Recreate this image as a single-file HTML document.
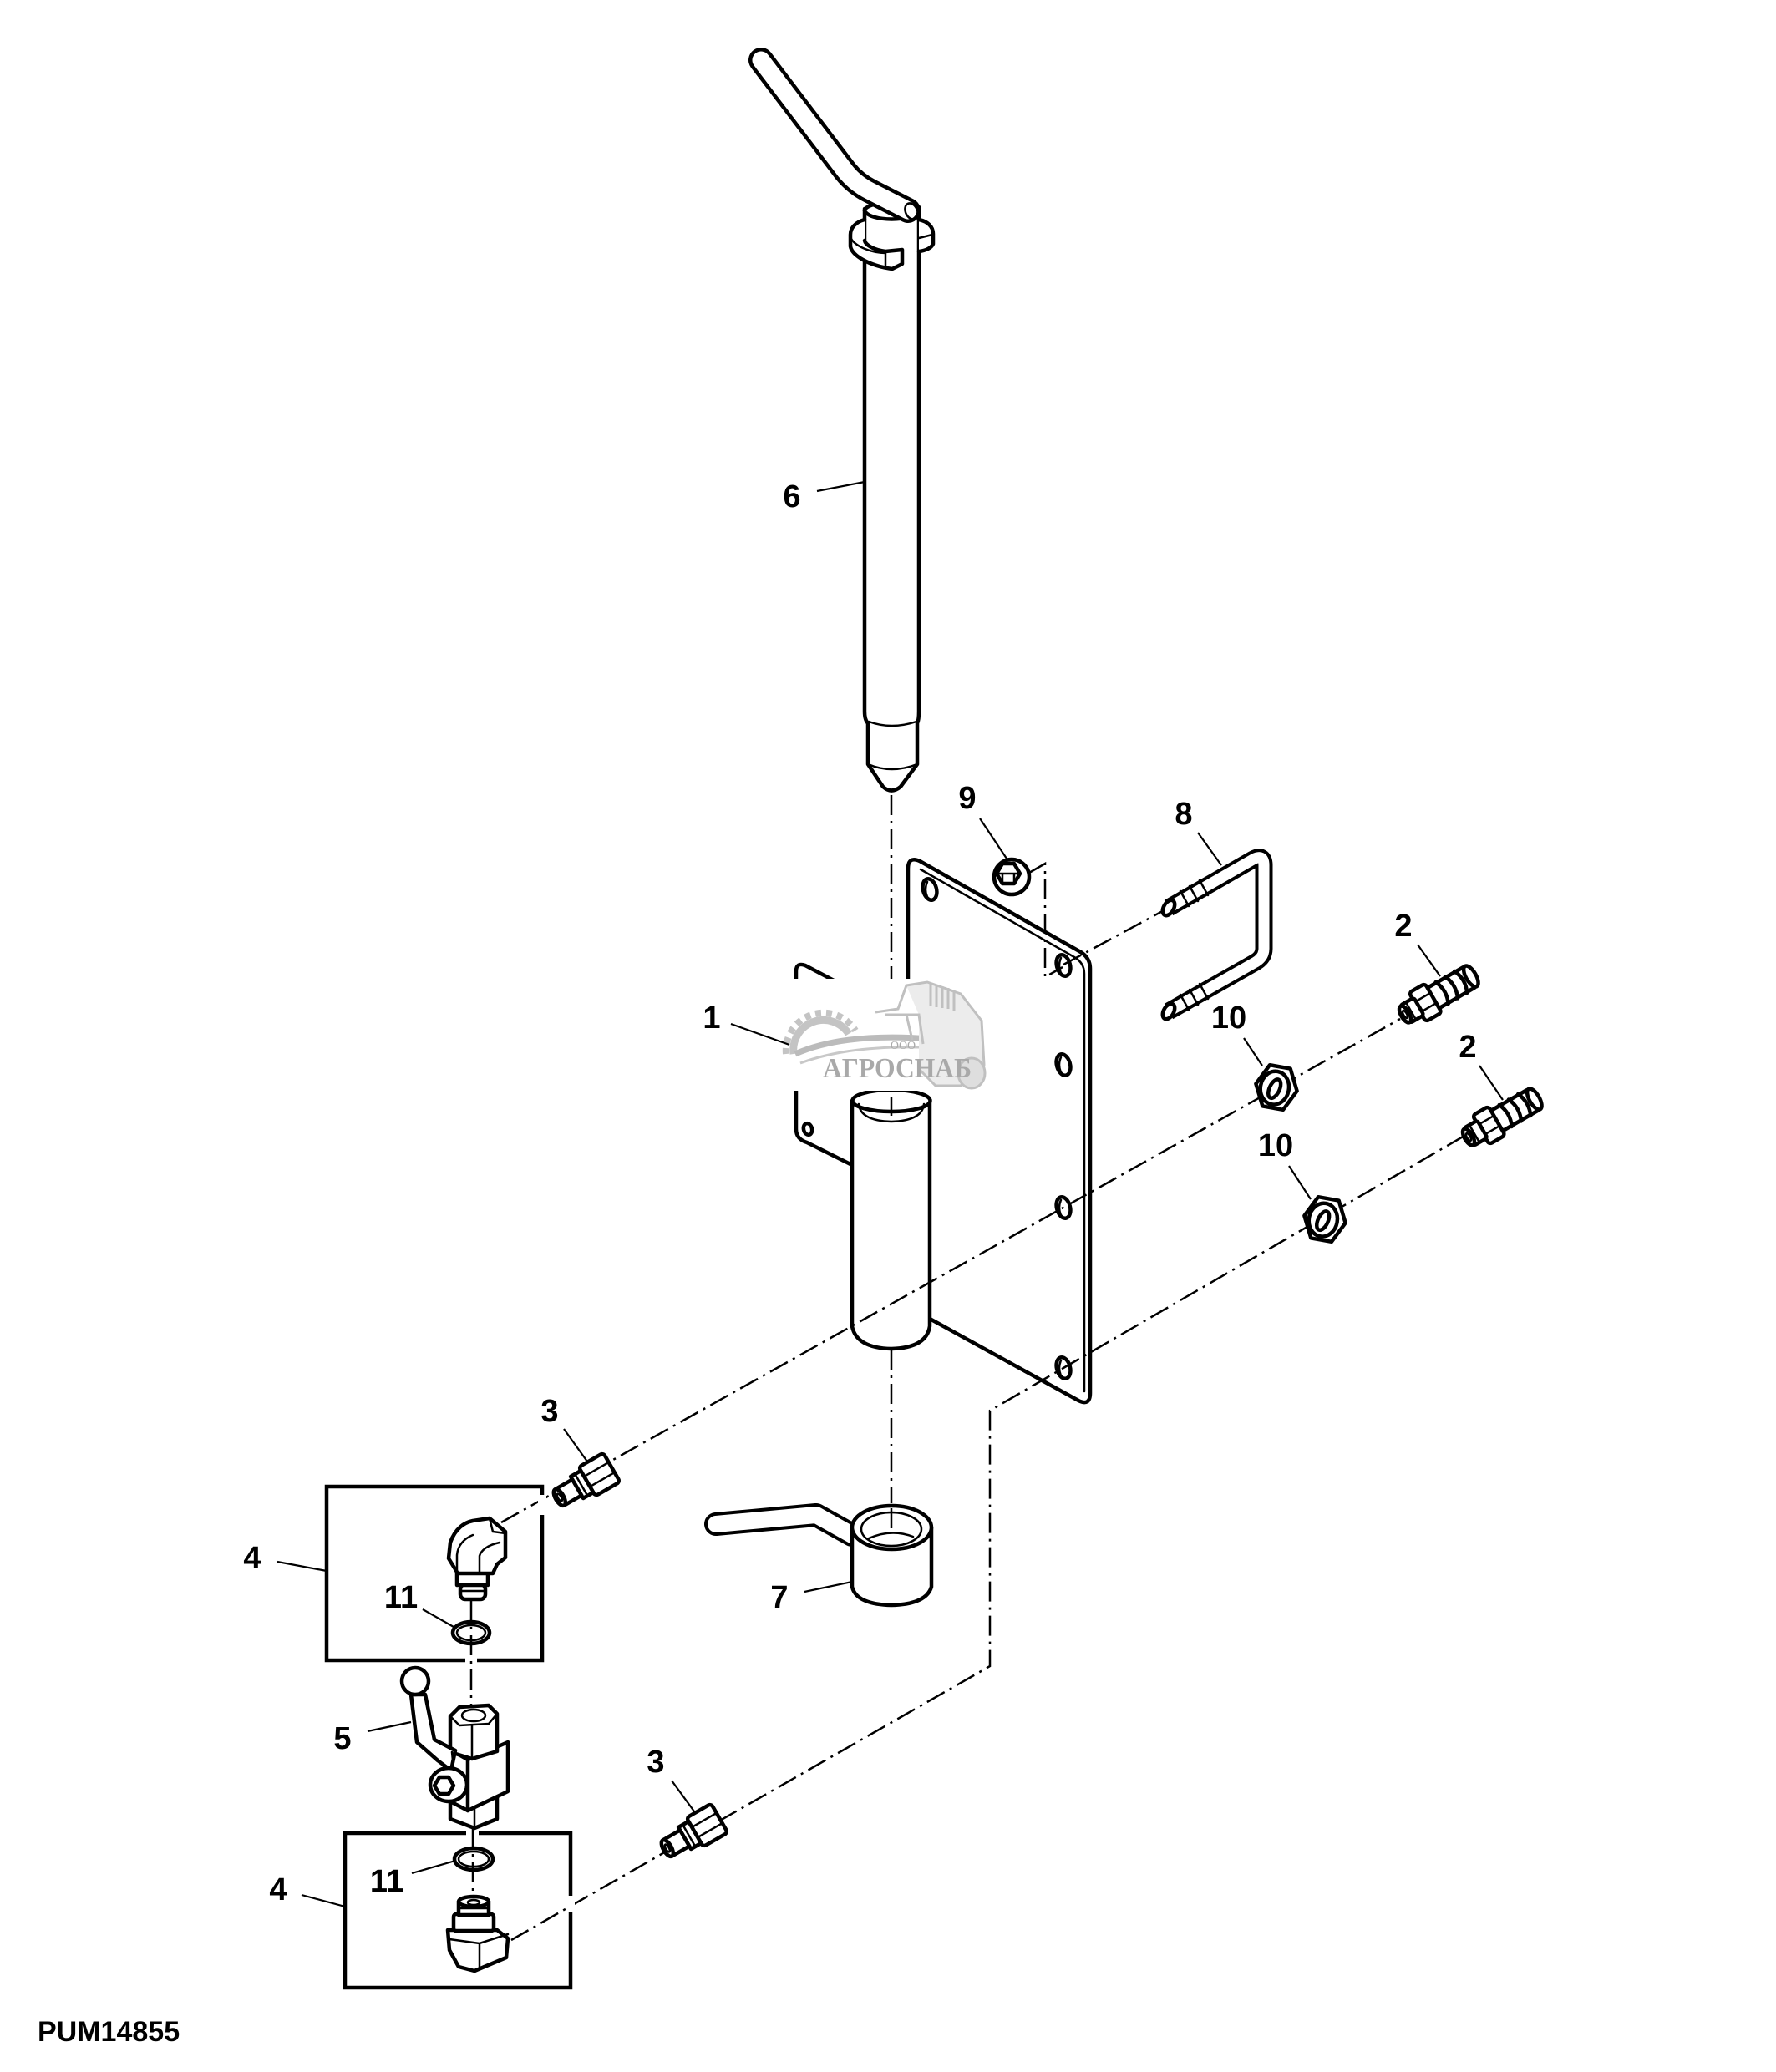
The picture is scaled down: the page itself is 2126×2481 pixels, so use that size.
<!DOCTYPE html>
<html><head><meta charset="utf-8"><style>
html,body{margin:0;padding:0;background:#fff;overflow:hidden;}
svg{display:block;}
.lb{font-family:"Liberation Sans",Arial,sans-serif;font-weight:bold;font-size:38px;fill:#000;text-anchor:middle}
.o{fill:#fff;stroke:#000;stroke-width:4.5;stroke-linejoin:round;stroke-linecap:round}
.n{fill:none;stroke:#000;stroke-width:4.5;stroke-linejoin:round;stroke-linecap:round}
.t{fill:none;stroke:#000;stroke-width:2.5;stroke-linecap:round}
.l{fill:none;stroke:#000;stroke-width:2.2}
.d{fill:none;stroke:#000;stroke-width:2.5;stroke-dasharray:24 7 3 7}
</style></head><body>
<svg xmlns="http://www.w3.org/2000/svg" width="2126" height="2481" viewBox="0 0 2126 2481">
<rect width="2126" height="2481" fill="#fff"/>

<!-- PART 1: back flange -->
<path class="n" d="M953,1172 L953,1163 Q953,1152 964,1156 L1000,1175"/>
<path class="n" d="M953,1306 L953,1352 Q953,1364 966,1368 L1020,1395"/>
<ellipse class="n" stroke-width="3.5" cx="967" cy="1352" rx="5" ry="7" transform="rotate(-15 967 1352)"/>

<!-- PART 1: plate -->
<path class="o" d="M1087,1172 L1087,1040 Q1087,1025 1101,1031 L1292,1139 Q1305,1146 1305,1160 L1305,1668 Q1305,1684 1291,1677 L1113,1579 L1087,1565"/>
<path class="t" d="M1102,1041 L1286,1146 Q1298,1153 1298,1166 L1298,1666"/>
<g class="n" stroke-width="4">
<ellipse cx="1113" cy="1065" rx="8" ry="13" transform="rotate(-15 1113 1065)"/>
<ellipse cx="1273" cy="1156" rx="8" ry="13" transform="rotate(-15 1273 1156)"/>
<ellipse cx="1273" cy="1275" rx="8" ry="13" transform="rotate(-15 1273 1275)"/>
<ellipse cx="1273" cy="1446" rx="8" ry="13" transform="rotate(-15 1273 1446)"/>
<ellipse cx="1273" cy="1638" rx="8" ry="13" transform="rotate(-15 1273 1638)"/>
</g>
<g class="t" stroke-width="2">
<path d="M1110,1056 q-4,9 0,18"/><path d="M1270,1147 q-4,9 0,18"/><path d="M1270,1266 q-4,9 0,18"/><path d="M1270,1437 q-4,9 0,18"/><path d="M1270,1629 q-4,9 0,18"/>
</g>

<!-- PART 1: tube -->
<path class="o" d="M1020,1318 L1020,1588 Q1025,1614 1067,1615 Q1109,1614 1113,1588 L1113,1318"/>
<ellipse class="o" cx="1067" cy="1318" rx="46.5" ry="13"/>
<path class="t" stroke-width="3.5" d="M1028,1322 Q1030,1342 1067,1343 Q1104,1342 1106,1322"/>

<!-- watermark -->
<rect x="945" y="1172" width="238" height="134" fill="#fff"/>
<path d="M950,1262 A36,36 0 0 1 1016,1238" fill="none" stroke="#c4c4c4" stroke-width="9"/>
<path d="M941,1262 A45,45 0 0 1 1024,1234" fill="none" stroke="#c4c4c4" stroke-width="8" stroke-dasharray="7 6"/>
<path d="M952,1262 Q1010,1236 1115,1244" fill="none" stroke="#bbbbbb" stroke-width="7"/>
<path d="M958,1273 Q1015,1252 1100,1254" fill="none" stroke="#c8c8c8" stroke-width="3"/>
<path d="M1085,1180 L1110,1176 L1150,1190 L1175,1222 L1178,1275 L1150,1300 L1120,1300 L1100,1280 L1100,1215 Z" fill="#ececec" stroke="none"/>
<g fill="none" stroke="#c0c0c0" stroke-width="3">
<path d="M1048,1212 L1075,1208 L1085,1180 L1110,1176 L1150,1190 L1175,1222 L1178,1275 L1150,1300 L1120,1300 L1100,1280"/>
<path d="M1114,1178 L1114,1205 M1121,1179 L1121,1206 M1128,1181 L1128,1207 M1135,1183 L1135,1208 M1142,1186 L1142,1210"/>
<path d="M1060,1215 L1100,1215 L1105,1250 M1085,1215 L1092,1245"/>
</g>
<ellipse cx="1163" cy="1285" rx="16" ry="18" fill="#dedede" stroke="#c0c0c0" stroke-width="3"/>
<text x="1081" y="1256" style="font-family:'Liberation Serif','DejaVu Serif',serif;font-size:14px;fill:#aaa;text-anchor:middle">ООО</text>
<text x="985" y="1290" textLength="178" lengthAdjust="spacingAndGlyphs" style="font-family:'Liberation Serif','DejaVu Serif',serif;font-weight:bold;font-size:34px;fill:#a9a9a9">АГРОСНАБ</text>

<!-- dash-dot assembly lines -->
<path class="d" d="M1067,952 L1067,1172"/>
<path class="d" d="M1067,1314 L1067,1336"/>
<path class="d" d="M1067,1616 L1067,1800"/>
<path class="d" d="M1273,1155 L1399,1087"/>
<path class="d" d="M600,1823 L1676,1220"/>
<path class="d" d="M1753,1360 L1273,1638 L1185,1689 L1185,1995 L612,2323"/>
<path class="d" d="M1232,1045 L1251,1034 L1251,1170 L1272,1158"/>

<!-- PART 6 -->
<path class="o" d="M1035,250 L1035,852 Q1035,862 1039,866 L1039,915 L1057,942 Q1067,951 1078,942 L1098,915 L1098,866 Q1100,862 1100,852 L1100,248"/>
<path class="t" stroke-width="3" d="M1040,864 Q1067,874 1097,864"/>
<path class="t" stroke-width="3" d="M1039,915 Q1067,927 1098,915"/>
<path class="o" d="M1035,263 C1024,266 1018,273 1018,281 L1018,295 C1020,306 1040,318 1068,322 L1080,316 L1080,299 L1060,301 C1045,299 1036,293 1035,288"/>
<path class="t" stroke-width="3" d="M1019,286 C1025,296 1045,303 1060,303 M1060,301 L1060,319"/>
<path class="o" d="M1100,263 C1110,265 1117,271 1117,280 L1117,292 C1115,297 1108,300 1100,301"/>
<path class="t" stroke-width="3" d="M1100,285 L1116,281"/>
<path class="n" d="M1035,252 C1040,266 1095,266 1100,252"/>
<path class="n" d="M1035,252 C1038,240 1095,238 1100,250"/>
<path d="M911,72 L1012,205 Q1024,220 1042,229 L1087,252" fill="none" stroke="#000" stroke-width="30" stroke-linecap="round" stroke-linejoin="round"/>
<path d="M911,72 L1012,205 Q1024,220 1042,229 L1087,252" fill="none" stroke="#fff" stroke-width="21" stroke-linecap="round" stroke-linejoin="round"/>
<ellipse class="t" stroke-width="3" cx="1091" cy="253" rx="7" ry="10" transform="rotate(-25 1091 253)"/>

<!-- PART 7 -->
<path d="M1020,1838 L977,1814 L857,1825" fill="none" stroke="#000" stroke-width="28" stroke-linecap="round" stroke-linejoin="round"/>
<path d="M1020,1838 L977,1814 L857,1825" fill="none" stroke="#fff" stroke-width="20" stroke-linecap="round" stroke-linejoin="round"/>
<path class="o" d="M1020,1829 L1020,1900 Q1025,1921 1067,1922 Q1109,1921 1115,1900 L1115,1829"/>
<ellipse class="o" cx="1067.5" cy="1829" rx="47.5" ry="26"/>
<ellipse class="t" stroke-width="3.5" cx="1067" cy="1831" rx="36" ry="20"/>
<path class="t" d="M1040,1842 Q1067,1830 1093,1840"/>
<path class="d" d="M1067,1806 L1067,1832"/>

<!-- PART 9 nut -->
<g transform="translate(1211,1050)">
<ellipse class="o" rx="21" ry="21"/>
<polygon class="o" stroke-width="3.5" points="10,-4 3,8 -11,8 -18,-4 -11,-16 3,-16"/>
<path class="t" d="M-11,8 L-11,-4 L3,-4 L3,8 M-18,-4 L-11,-4 M3,-4 L10,-4"/>
</g>

<!-- PART 8 U-bolt -->
<path d="M1399,1087 L1500,1029 Q1513,1022 1513,1036 L1513,1136 Q1513,1146 1503,1152 L1399,1211" fill="none" stroke="#000" stroke-width="21" stroke-linejoin="round"/>
<path d="M1399,1087 L1500,1029 Q1513,1022 1513,1036 L1513,1136 Q1513,1146 1503,1152 L1399,1211" fill="none" stroke="#fff" stroke-width="13" stroke-linejoin="round"/>
<ellipse class="o" stroke-width="3.5" cx="1399" cy="1087" rx="6" ry="10" transform="rotate(30 1399 1087)"/>
<ellipse class="o" stroke-width="3.5" cx="1399" cy="1211" rx="6" ry="10" transform="rotate(30 1399 1211)"/>
<g class="t" stroke-width="2.5">
<path d="M1413,1067 L1423,1085 M1424,1061 L1434,1079 M1436,1054 L1446,1072"/>
<path d="M1413,1191 L1423,1209 M1424,1185 L1434,1203 M1436,1178 L1446,1196"/>
</g>

<!-- PART 2 fittings -->
<g transform="translate(1721,1192) rotate(-30)">
<rect class="o" x="-8" y="-14" width="54" height="28" rx="3"/>
<ellipse class="o" cx="46" cy="0" rx="6" ry="14"/>
<path class="n" stroke-width="3.5" d="M6,-15 q7,15 0,30 M19,-15 q7,15 0,30 M32,-15 q7,15 0,30"/>
<rect class="o" x="-28" y="-20" width="22" height="40" rx="4"/>
<path class="t" d="M-28,-7 L-6,-7 M-28,7 L-6,7"/>
<rect class="o" x="-45" y="-12" width="19" height="24" rx="3"/>
<path class="t" d="M-37,-12 L-37,12"/>
<ellipse class="o" cx="-45" cy="0" rx="5" ry="11"/>
<ellipse class="t" cx="-45" cy="0" rx="2" ry="5"/>
</g>
<g transform="translate(1797,1339) rotate(-30)">
<rect class="o" x="-8" y="-14" width="54" height="28" rx="3"/>
<ellipse class="o" cx="46" cy="0" rx="6" ry="14"/>
<path class="n" stroke-width="3.5" d="M6,-15 q7,15 0,30 M19,-15 q7,15 0,30 M32,-15 q7,15 0,30"/>
<rect class="o" x="-28" y="-20" width="22" height="40" rx="4"/>
<path class="t" d="M-28,-7 L-6,-7 M-28,7 L-6,7"/>
<rect class="o" x="-45" y="-12" width="19" height="24" rx="3"/>
<path class="t" d="M-37,-12 L-37,12"/>
<ellipse class="o" cx="-45" cy="0" rx="5" ry="11"/>
<ellipse class="t" cx="-45" cy="0" rx="2" ry="5"/>
</g>

<!-- PART 10 nuts -->
<g transform="translate(1528,1302) rotate(10)">
<polygon class="o" points="25,0 12.5,-25 -12.5,-25 -25,0 -12.5,25 12.5,25"/>
<ellipse class="n" stroke-width="3.5" cx="-2" cy="1" rx="17" ry="20"/>
<ellipse class="n" stroke-width="3.5" cx="-2" cy="2" rx="6" ry="12" transform="rotate(15 -2 2)"/>
</g>
<g transform="translate(1586,1460) rotate(10)">
<polygon class="o" points="25,0 12.5,-25 -12.5,-25 -25,0 -12.5,25 12.5,25"/>
<ellipse class="n" stroke-width="3.5" cx="-2" cy="1" rx="17" ry="20"/>
<ellipse class="n" stroke-width="3.5" cx="-2" cy="2" rx="6" ry="12" transform="rotate(15 -2 2)"/>
</g>

<!-- PART 3 fittings -->
<g transform="translate(701,1775) rotate(-30)">
<rect class="o" x="2" y="-20" width="34" height="40" rx="4"/>
<path class="t" d="M2,-7 L36,-7 M2,7 L36,7"/>
<rect class="o" x="-12" y="-15" width="14" height="30"/>
<path class="t" d="M-6,-15 L-6,15"/>
<rect class="o" x="-36" y="-11" width="24" height="22"/>
<ellipse class="o" cx="-36" cy="0" rx="5" ry="11"/>
<ellipse class="t" cx="-36" cy="0" rx="2" ry="5"/>
</g>
<g transform="translate(830,2195) rotate(-30)">
<rect class="o" x="2" y="-20" width="34" height="40" rx="4"/>
<path class="t" d="M2,-7 L36,-7 M2,7 L36,7"/>
<rect class="o" x="-12" y="-15" width="14" height="30"/>
<path class="t" d="M-6,-15 L-6,15"/>
<rect class="o" x="-36" y="-11" width="24" height="22"/>
<ellipse class="o" cx="-36" cy="0" rx="5" ry="11"/>
<ellipse class="t" cx="-36" cy="0" rx="2" ry="5"/>
</g>

<!-- PART 4 boxes -->
<rect x="391" y="1780" width="258" height="208" fill="none" stroke="#000" stroke-width="4.5"/>
<rect x="557" y="1983" width="14" height="10" fill="#fff"/>
<rect x="644" y="1790" width="10" height="24" fill="#fff"/>
<rect x="413" y="2195" width="270" height="185" fill="none" stroke="#000" stroke-width="4.5"/>
<rect x="558" y="2190" width="15" height="10" fill="#fff"/>
<rect x="678" y="2270" width="10" height="20" fill="#fff"/>
<path class="d" d="M564,1917 L564,2060"/>
<path class="d" d="M566,2189 L566,2272"/>

<!-- upper elbow -->
<rect class="o" x="551" y="1897" width="30" height="18" rx="6"/>
<path class="t" d="M551,1905 L581,1905"/>
<rect class="o" x="547" y="1883" width="37" height="15"/>
<path class="o" d="M539,1847 C545,1830 556,1823 566,1821 L586,1818 L605,1834 L605,1865 L595,1873 L590,1884 L548,1884 L537,1866 Z"/>
<path class="t" d="M547,1882 L547,1862 C548,1850 556,1842 566,1838 M574,1884 L574,1863 C576,1856 584,1850 598,1847 M586,1818 L590,1834 L605,1836"/>
<ellipse class="n" cx="564" cy="1955" rx="22" ry="13"/>
<ellipse class="t" cx="564" cy="1955" rx="17" ry="9"/>

<!-- valve 5 -->
<path class="o" d="M539,2150 L539,2178 L568,2189 L595,2178 L595,2150 Z"/>
<path class="t" d="M568,2165 L568,2189"/>
<path class="o" d="M530,2090 L560,2107 L608,2086 L608,2145 L560,2168 L535,2155 Z"/>
<path class="n" d="M560,2107 L560,2168"/>
<path class="o" d="M539,2055 L539,2098 L565,2106 L595,2097 L595,2052 L585,2042 L550,2044 Z"/>
<path class="t" d="M539,2055 L550,2066 L585,2064 L595,2052 M565,2066 L565,2106"/>
<ellipse class="t" stroke-width="3.5" cx="567" cy="2054" rx="14" ry="7"/>
<path class="o" d="M492,2029 L499,2086 L524,2108 L540,2120 L545,2096 L520,2083 L509,2029 Z"/>
<ellipse class="o" cx="537" cy="2137" rx="22" ry="20"/>
<polygon class="o" stroke-width="3" points="543,2138 537,2128 526,2128 520,2138 526,2148 537,2148"/>
<circle class="o" cx="497" cy="2013" r="16"/>
<path class="t" d="M541,2098 L543,2118"/>

<!-- ring 11 lower -->
<ellipse class="n" cx="567" cy="2226" rx="23" ry="13"/>
<ellipse class="t" cx="567" cy="2226" rx="18" ry="9"/>

<!-- lower elbow -->
<path class="o" d="M536,2311 L538,2335 L549,2355 L568,2360 L606,2344 L608,2321 L595,2311 Z"/>
<path class="t" d="M574,2327 L574,2358 M538,2322 L574,2327 L608,2316"/>
<rect class="o" x="543" y="2292" width="48" height="20" rx="3"/>
<rect class="o" x="549" y="2277" width="36" height="16"/>
<ellipse class="o" cx="567" cy="2277" rx="18" ry="6"/>
<ellipse class="t" cx="567" cy="2278" rx="7" ry="3"/>
<path class="t" d="M549,2285 L585,2285"/>

<!-- leaders -->
<g class="l">
<path d="M978,588 L1035,577"/>
<path d="M1173,980 L1205,1028"/>
<path d="M1434,997 L1462,1036"/>
<path d="M1697,1131 L1724,1169"/>
<path d="M1771,1276 L1799,1317"/>
<path d="M1489,1243 L1511,1276"/>
<path d="M1543,1396 L1569,1436"/>
<path d="M875,1226 L945,1251"/>
<path d="M675,1711 L703,1750"/>
<path d="M332,1870 L391,1881"/>
<path d="M506,1927 L543,1948"/>
<path d="M440,2073 L492,2062"/>
<path d="M804,2132 L831,2169"/>
<path d="M493,2243 L545,2228"/>
<path d="M361,2269 L413,2283"/>
<path d="M963,1906 L1020,1894"/>
</g>

<!-- labels -->
<text class="lb" x="948" y="607">6</text>
<text class="lb" x="1158" y="968">9</text>
<text class="lb" x="1417" y="987">8</text>
<text class="lb" x="1680" y="1121">2</text>
<text class="lb" x="1757" y="1266">2</text>
<text class="lb" x="1471" y="1231">10</text>
<text class="lb" x="1527" y="1384">10</text>
<text class="lb" x="852" y="1231">1</text>
<text class="lb" x="658" y="1702">3</text>
<text class="lb" x="302" y="1878">4</text>
<text class="lb" x="480" y="1925">11</text>
<text class="lb" x="410" y="2094">5</text>
<text class="lb" x="785" y="2122">3</text>
<text class="lb" x="463" y="2265">11</text>
<text class="lb" x="333" y="2275">4</text>
<text class="lb" x="933" y="1925">7</text>
<text x="45" y="2444" style="font-family:'Liberation Sans',Arial,sans-serif;font-weight:bold;font-size:34px;fill:#000">PUM14855</text>
</svg>
</body></html>
